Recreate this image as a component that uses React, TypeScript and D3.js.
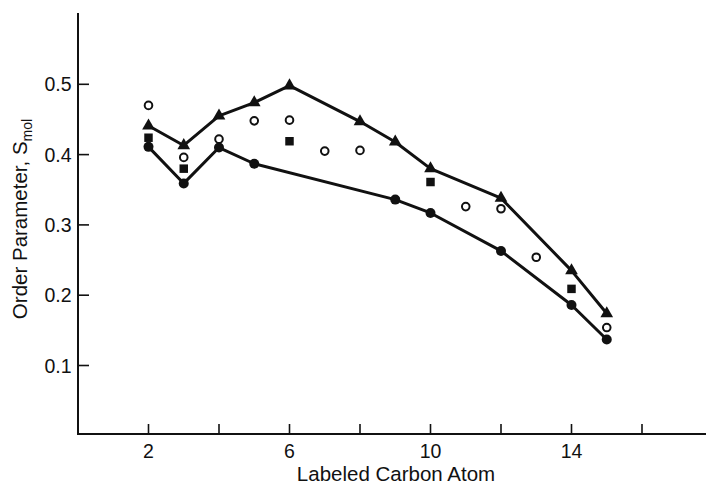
import * as d3 from 'd3';

// Labeled carbon positions and order parameters
const TRIANGLE_X = [2, 3, 4, 5, 6, 8, 9, 10, 12, 14, 15];
const TRIANGLE_Y = [0.441, 0.413, 0.455, 0.474, 0.498, 0.447, 0.418, 0.38, 0.338, 0.235, 0.174];

const DOT_X = [2, 3, 4, 5, 9, 10, 12, 14, 15];
const DOT_Y = [0.411, 0.359, 0.41, 0.387, 0.336, 0.317, 0.263, 0.186, 0.137];

const OPEN_X = [2, 3, 4, 5, 6, 7, 8, 11, 12, 13, 15];
const OPEN_Y = [0.47, 0.396, 0.422, 0.448, 0.449, 0.405, 0.406, 0.326, 0.323, 0.254, 0.154];

const SQUARE_X = [2, 3, 6, 10, 14];
const SQUARE_Y = [0.424, 0.38, 0.419, 0.361, 0.209];

const X_TICKS = [2, 4, 6, 8, 10, 12, 14, 16];
const X_TICK_LABELS = [2, 6, 10, 14];
const Y_TICKS = [0.1, 0.2, 0.3, 0.4, 0.5];

const X_TITLE = 'Labeled Carbon Atom';
const Y_TITLE = 'Order Parameter, S';
const Y_TITLE_SUB = 'mol';

const width = 706;
const height = 484;
const FONT = '"Liberation Sans", Arial, Helvetica, sans-serif';
const INK = '#111';

export default function App() {
  const x = d3.scaleLinear().domain([0, 18]).range([78, 712.5]);
  const y = d3.scaleLinear().domain([0, 0.6]).range([435.8, 14]);

  const axisLeft = 78;
  const axisBottom = 434;

  const zip = (xs: number[], ys: number[]) => xs.map((v, i) => [v, ys[i]] as [number, number]);

  const line = d3
    .line<[number, number]>()
    .x((d) => x(d[0]))
    .y((d) => y(d[1]));

  const triangle = d3.symbol(d3.symbolTriangle, 70)() ?? '';
  const square = d3.symbol(d3.symbolSquare, 72)() ?? '';

  return (
    <svg
      width={width}
      height={height}
      style={{ display: 'block', position: 'absolute', left: 0, top: 0, background: '#fff' }}
      fontFamily={FONT}
    >
      {/* axes */}
      <line x1={axisLeft} x2={axisLeft} y1={13} y2={axisBottom + 1} stroke={INK} strokeWidth={2} />
      <line x1={axisLeft - 1} x2={width} y1={axisBottom} y2={axisBottom} stroke={INK} strokeWidth={2} />

      {X_TICKS.map((t) => (
        <line key={`xt${t}`} x1={x(t)} x2={x(t)} y1={axisBottom} y2={axisBottom - 10} stroke={INK} strokeWidth={1.6} />
      ))}
      {X_TICK_LABELS.map((t) => (
        <text key={`xl${t}`} x={x(t)} y={457.5} textAnchor="middle" fontSize={19.5} fill={INK}>
          {t}
        </text>
      ))}

      {Y_TICKS.map((t) => (
        <g key={`yt${t}`}>
          <line x1={axisLeft} x2={axisLeft + 11} y1={y(t)} y2={y(t)} stroke={INK} strokeWidth={1.6} />
          <text x={71.5} y={y(t)} dy="0.36em" textAnchor="end" fontSize={19.5} fill={INK}>
            {t.toFixed(1)}
          </text>
        </g>
      ))}

      {/* titles */}
      <text x={396} y={481} textAnchor="middle" fontSize={20.5} fill={INK}>
        {X_TITLE}
      </text>
      <text
        transform="translate(27, 219) rotate(-90)"
        textAnchor="middle"
        fontSize={20.5}
        fill={INK}
      >
        {Y_TITLE}
        <tspan fontSize={14} dy={5}>
          {Y_TITLE_SUB}
        </tspan>
      </text>

      {/* connected series */}
      <path d={line(zip(TRIANGLE_X, TRIANGLE_Y)) ?? ''} fill="none" stroke={INK} strokeWidth={3} strokeLinejoin="round" />
      <path d={line(zip(DOT_X, DOT_Y)) ?? ''} fill="none" stroke={INK} strokeWidth={3} strokeLinejoin="round" />

      {zip(TRIANGLE_X, TRIANGLE_Y).map(([a, b]) => (
        <path key={`tri${a}`} d={triangle} transform={`translate(${x(a)}, ${y(b)})`} fill={INK} />
      ))}
      {zip(DOT_X, DOT_Y).map(([a, b]) => (
        <circle key={`dot${a}`} cx={x(a)} cy={y(b)} r={5} fill={INK} />
      ))}

      {/* unconnected series */}
      {zip(SQUARE_X, SQUARE_Y).map(([a, b]) => (
        <path key={`sq${a}`} d={square} transform={`translate(${x(a)}, ${y(b)})`} fill={INK} />
      ))}
      {zip(OPEN_X, OPEN_Y).map(([a, b]) => (
        <circle key={`open${a}`} cx={x(a)} cy={y(b)} r={3.8} fill="#fff" stroke={INK} strokeWidth={2} />
      ))}
    </svg>
  );
}
